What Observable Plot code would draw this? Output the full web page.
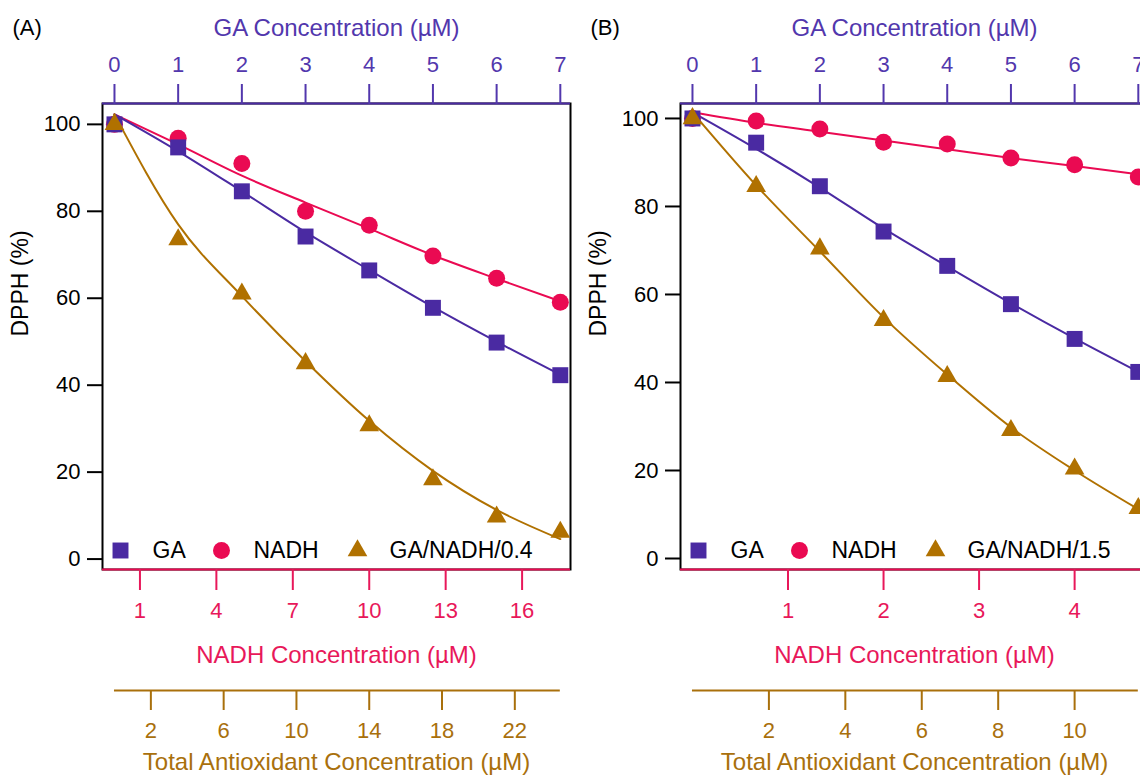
<!DOCTYPE html>
<html><head><meta charset="utf-8">
<script src="https://cdn.jsdelivr.net/npm/d3@7"></script>
<script src="https://cdn.jsdelivr.net/npm/@observablehq/plot@0.6"></script>
<style>
html,body{margin:0;padding:0;background:#fff;overflow:hidden}
#wrap{position:relative;width:1140px;height:775px;overflow:hidden;background:#fff}
.panel{position:absolute;top:0}
</style></head><body><div id="wrap"></div>
<script>
// ---------- shared ----------
const gaConc = [0, 1, 2, 3, 4, 5, 6, 7];
const gaTicks = [0, 1, 2, 3, 4, 5, 6, 7];
const yTicks = [0, 20, 40, 60, 80, 100];
const gaTitle = "GA Concentration (µM)";
const nadhTitle = "NADH Concentration (µM)";
const totalTitle = "Total Antioxidant Concentration (µM)";
const yTitle = "DPPH (%)";
const seriesNames = ["GA", "NADH"];

// ---------- panel A ----------
const labelA = "(A)";
const ratioA = 0.4;                 // GA / NADH
const mixNameA = "GA/NADH/0.4";
const nadhTicksA = [1, 4, 7, 10, 13, 16];
const totalTicksA = [2, 6, 10, 14, 18, 22];
const dpphGA_A   = [100, 94.7, 84.6, 74.2, 66.4, 57.8, 49.8, 42.3];
const dpphNADH_A = [100, 96.8, 91.0, 80.0, 76.8, 69.7, 64.6, 59.1];
const dpphMix_A  = [100, 73.5, 61.0, 45.0, 30.7, 18.3, 9.7, 6.2];
const fitGA_A    = [102.3, 93.8, 84.6, 75.2, 66.5, 58.0, 50.0, 42.4];
const fitNADH_A  = [102.3, 95.4, 88.2, 82.0, 76.0, 69.9, 64.5, 59.3];
const fitMix_A   = [102.3, 77.0, 60.5, 45.5, 31.8, 20.3, 11.3, 4.6];
const yDomainA = [-2.4, 104.8];

// ---------- panel B ----------
const labelB = "(B)";
const ratioB = 1.5;
const mixNameB = "GA/NADH/1.5";
const nadhTicksB = [1, 2, 3, 4];
const totalTicksB = [2, 4, 6, 8, 10];
const dpphGA_B   = [100, 94.5, 84.6, 74.3, 66.5, 57.8, 49.9, 42.4];
const dpphNADH_B = [100, 99.4, 97.6, 94.6, 94.2, 91.0, 89.5, 86.7];
const dpphMix_B  = [100, 84.6, 70.4, 54.1, 41.4, 29.1, 20.4, 11.4];
const fitGA_B    = [101.4, 93.1, 84.3, 75.0, 66.4, 58.0, 50.0, 42.4];
const fitNADH_B  = [101.4, 99.0, 97.0, 95.0, 93.0, 91.0, 89.2, 87.3];
const fitMix_B   = [101.4, 84.8, 69.8, 54.8, 41.8, 29.8, 20.0, 11.2];
const yDomainB = [-2.5, 103.4];

// ---------- colours ----------
const PURPLE = "#4a2aa2", PINK = "#ea0a52", BROWN = "#b07100";
const PURPLE_T = "#5237ad", PINK_T = "#e8185a", BROWN_T = "#a9700c";
const FONT = "'Liberation Sans', Arial, Helvetica, sans-serif";

function panel(p) {
  const nadhPos = n => n * p.ratio;             // NADH value -> GA axis units
  const totalPos = t => t / (1 + 1 / p.ratio);  // total value -> GA axis units
  const pts = ys => gaConc.map((x, i) => ({x, y: ys[i]}));
  const y0 = p.yDomain[0], y1 = p.yDomain[1];
  const legend = [
    {name: seriesNames[0], symbol: "square", fill: PURPLE, r: 9, dx: 18, tx: 50},
    {name: seriesNames[1], symbol: "circle", fill: PINK, r: 8.5, dx: 119, tx: 151},
    {name: p.mixName, symbol: "triangle", fill: BROWN, r: 7.3, dx: 255, tx: 287}
  ];
  const marks = [
    Plot.frame({stroke: "black", strokeWidth: 2}),
    Plot.ruleY([y1], {stroke: PURPLE, strokeWidth: 2}),
    Plot.ruleY([y0], {stroke: PINK, strokeWidth: 2}),
    // top GA axis
    Plot.axisX(gaTicks, {anchor: "top", tickSize: 20, tickPadding: 12, fontSize: 22, color: PURPLE_T, strokeWidth: 2, label: null}),
    Plot.text([gaTitle], {text: d => d, frameAnchor: "top", dy: -75, fontSize: 24, fill: PURPLE_T, lineAnchor: "middle"}),
    // y axis
    Plot.axisY(yTicks, {anchor: "left", tickSize: 15, tickPadding: 7, fontSize: 22, color: "black", strokeWidth: 2, label: null}),
    Plot.text([yTitle], {text: d => d, frameAnchor: "left", dx: -82, rotate: -90, fontSize: 23, fill: "black", lineAnchor: "middle"}),
    // NADH axis
    Plot.axisX(p.nadhTicks.map(nadhPos), {anchor: "bottom", tickSize: 21, tickPadding: 12, fontSize: 22, color: PINK_T, strokeWidth: 2, tickFormat: d => String(Math.round(d / p.ratio)), label: null}),
    Plot.text([nadhTitle], {text: d => d, frameAnchor: "bottom", dy: 86, fontSize: 24, fill: PINK_T, lineAnchor: "middle"}),
    // total axis
    Plot.ruleY([y0], {x1: gaTicks[0], x2: gaTicks[gaTicks.length - 1], dy: 121, stroke: BROWN_T, strokeWidth: 2}),
    Plot.ruleX(p.totalTicks.map(totalPos), {y1: y0, y2: y0, insetBottom: -20, dy: 121, stroke: BROWN_T, strokeWidth: 2}),
    Plot.text(p.totalTicks, {x: totalPos, text: d => String(d), frameAnchor: "bottom", dy: 161, fontSize: 22, fill: BROWN_T, lineAnchor: "middle"}),
    Plot.text([totalTitle], {text: d => d, frameAnchor: "bottom", dy: 193, fontSize: 24, fill: BROWN_T, lineAnchor: "middle"}),
    // panel label
    Plot.text([p.label], {text: d => d, frameAnchor: "top-left", dx: -90, dy: -76, fontSize: 22, fill: "black", textAnchor: "start", lineAnchor: "middle"}),
    // fitted curves
    Plot.line(pts(p.fitNADH), {x: "x", y: "y", stroke: PINK, strokeWidth: 2, curve: "monotone-x"}),
    Plot.line(pts(p.fitGA), {x: "x", y: "y", stroke: PURPLE, strokeWidth: 2, curve: "monotone-x"}),
    Plot.line(pts(p.fitMix), {x: "x", y: "y", stroke: BROWN, strokeWidth: 2, curve: "monotone-x"}),
    // data points
    Plot.dot(pts(p.nadh), {x: "x", y: "y", symbol: "circle", fill: PINK, r: 8.5}),
    Plot.dot(pts(p.ga), {x: "x", y: "y", symbol: "square", fill: PURPLE, r: 9}),
    Plot.dot(pts(p.mix), {x: "x", y: "y", symbol: "triangle", fill: BROWN, r: 7.3})
  ];
  for (const it of legend) {
    marks.push(Plot.dot([it], {frameAnchor: "bottom-left", dx: it.dx, dy: -19, symbol: it.symbol, fill: it.fill, r: it.r}));
    marks.push(Plot.text([it], {text: d => d.name, frameAnchor: "bottom-left", dx: it.tx, dy: -19, fontSize: 23, fill: "black", textAnchor: "start", lineAnchor: "middle"}));
  }
  return Plot.plot({
    width: 580, height: 775,
    marginLeft: 102, marginRight: 10, marginTop: 103, marginBottom: 206,
    x: {domain: [-0.188, 7.16], axis: null, label: null},
    y: {domain: p.yDomain, axis: null, label: null},
    style: {fontFamily: FONT, background: "transparent", overflow: "visible"},
    marks
  });
}

const wrap = document.getElementById("wrap");
const A = panel({label: labelA, ratio: ratioA, mixName: mixNameA, nadhTicks: nadhTicksA, totalTicks: totalTicksA,
  ga: dpphGA_A, nadh: dpphNADH_A, mix: dpphMix_A, fitGA: fitGA_A, fitNADH: fitNADH_A, fitMix: fitMix_A, yDomain: yDomainA});
const B = panel({label: labelB, ratio: ratioB, mixName: mixNameB, nadhTicks: nadhTicksB, totalTicks: totalTicksB,
  ga: dpphGA_B, nadh: dpphNADH_B, mix: dpphMix_B, fitGA: fitGA_B, fitNADH: fitNADH_B, fitMix: fitMix_B, yDomain: yDomainB});
A.classList.add("panel"); A.style.left = "0px";
B.classList.add("panel"); B.style.left = "578px";
wrap.appendChild(A);
wrap.appendChild(B);
</script>
</body></html>
